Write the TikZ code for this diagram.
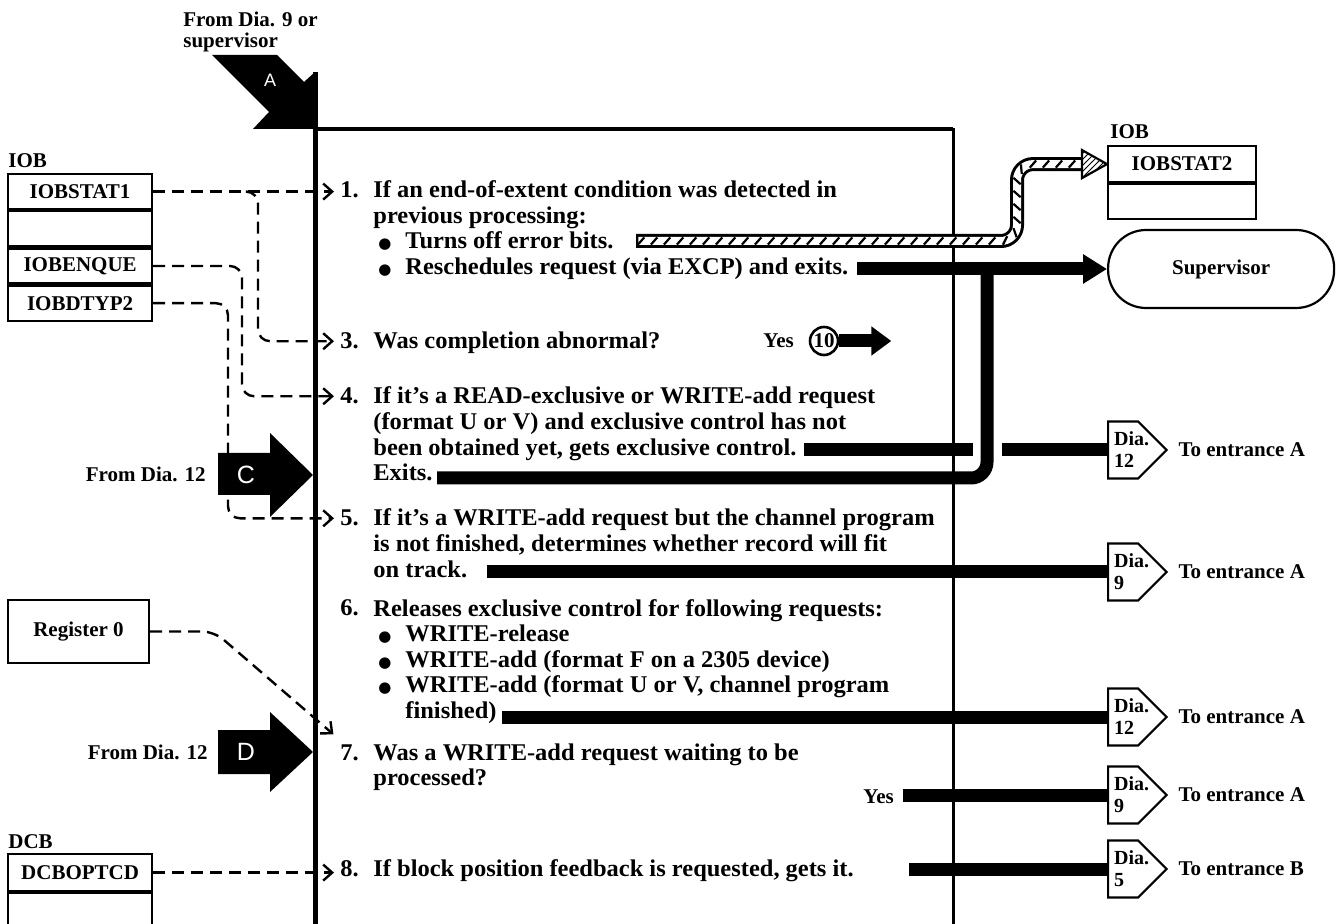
\documentclass[tikz,border=0pt]{standalone}
\usepackage{fontspec}
\setmainfont{Liberation Serif}
\newfontfamily\stepfont{Liberation Serif}[FakeStretch=1.02]
\newfontfamily\letterfont{Liberation Sans}
\newfontfamily\dotfont{DejaVu Sans}
\usetikzlibrary{arrows.meta,positioning,shapes.symbols,decorations.markings,patterns}
\newcommand\blt{\hspace*{2.5pt}\makebox[13.5pt][l]{\dotfont\fontsize{7.5}{7.5}\selectfont ●}}
\newcommand\dia[1]{\makebox[15pt][l]{\hspace*{3pt}Dia.}\\\hspace*{3pt}#1}
\begin{document}
\begin{tikzpicture}[x=0.5pt, y=-0.5pt, font=\stepfont\bfseries\fontsize{12}{12.75}\selectfont,
  lbl/.style={font=\bfseries\fontsize{10.5}{12}\selectfont, inner sep=0pt},
  field/.style={draw, line width=1.1pt, minimum width=72pt, minimum height=17.5pt, lbl},
  stepnum/.style={anchor=base west, inner sep=0pt},
  steptext/.style={anchor=base west, align=left, inner sep=0pt},
  dashlink/.style={line width=1.2pt, dash pattern=on 6pt off 3.5pt, rounded corners=6pt, shorten >=3pt,
    -{Straight Barb[length=4.5pt,width=8pt,line width=1.2pt]}},
  flowbar/.style={line width=6.5pt},
  hatchbar/.style={line width=7pt, rounded corners=8pt,
    postaction={draw=white, line width=4pt, shorten <=1.2pt},
    postaction={decorate, decoration={markings, mark=between positions 0.01 and 1 step 6.5pt with
      {\draw[black, line width=1.1pt] (-1.6pt,-1.8pt) -- (1.6pt,1.8pt);}}}},
  offpage/.style={draw, line width=1.1pt, shape=signal, signal to=east, signal pointer angle=90,
    minimum height=28.5pt, inner xsep=0pt, inner ysep=1pt, align=left, anchor=west,
    font=\bfseries\fontsize{10}{11}\selectfont},
  bigletter/.style={text=white, inner sep=0pt, font=\letterfont\fontsize{12.5}{12.5}\selectfont}]
  \useasboundingbox (0,0) rectangle (1338,924);
  \draw[line width=2.5pt] (315,72) -- (315,930);
  \draw[line width=2pt] (314,129) -- (953,129);
  \draw[line width=1.5pt] (953,128) -- (953,930);
  \fill (212,55) -- (277,55) -- (304,82) -- (315,72) -- (315,129) -- (253,129) -- (269,112) -- cycle;
  \node[bigletter, font=\letterfont\fontsize{9}{9}\selectfont] (labA) at (270,80) {A};
  \node[lbl, anchor=north west, align=left, font=\bfseries\fontsize{10.5}{10.5}\selectfont] (fromA) at (183,12) {From Dia. 9 or\\supervisor};
  \fill (218,453) -- (270,453) -- (270,433) -- (313,475) -- (270,517) -- (270,495) -- (218,495) -- cycle;
  \node[bigletter] (labC) at (246,475) {C};
  \node[lbl, anchor=east] (fromC) at (206,474) {From Dia. 12};
  \fill (218,730) -- (270,730) -- (270,712) -- (313,752) -- (270,792) -- (270,774) -- (218,774) -- cycle;
  \node[bigletter] (labD) at (246,752) {D};
  \node[lbl, anchor=east] (fromD) at (208,752) {From Dia. 12};

  \node[lbl, anchor=south west] (iobL) at (8,168) {IOB};
  \node[field, anchor=north west] (stat1) at (7,173) {IOBSTAT1};
  \node[field, below=0pt of stat1] (spare1) {};
  \node[field, below=0pt of spare1] (enque) {IOBENQUE};
  \node[field, below=0pt of enque] (dtyp2) {IOBDTYP2};
  \node[field, minimum width=70.5pt, minimum height=31.5pt] (reg0) at (78.5,631.5) {Register 0};
  \node[lbl, anchor=south west] (dcbL) at (8,849) {DCB};
  \node[field, anchor=north west, minimum height=18.5pt] (optcd) at (7,853) {DCBOPTCD};
  \node[field, below=0pt of optcd, minimum height=30pt] (spare2) {};
  \node[lbl, anchor=south west] (iobR) at (1110,139) {IOB};
  \node[field, anchor=north west, minimum width=74pt, minimum height=18pt] (stat2) at (1107,145) {IOBSTAT2};
  \node[field, below=0pt of stat2, minimum width=74pt] (spare3) {};
  \node[draw, line width=1.1pt, rounded corners=19pt, minimum width=113pt, minimum height=39pt, lbl, anchor=west] (sup) at (1107,269) {Supervisor};

  \node[stepnum] (n1) at (340,198) {1.};
  \node[steptext] (t1) at (373,274.5) {If an end-of-extent condition was detected in\\previous processing:\\\blt Turns off error bits.\\\blt Reschedules request (via EXCP) and exits.};
  \node[stepnum] (n3) at (340,349) {3.};
  \node[steptext] (t3) at (373,349) {Was completion abnormal?};
  \node[lbl, anchor=base west] (yes3) at (763,348) {Yes};
  \node[draw, circle, line width=1.3pt, minimum size=14pt, inner sep=0pt, lbl] (ten) at (824,341) {10};
  \node[stepnum] (n4) at (340,404) {4.};
  \node[steptext] (t4) at (373,480.5) {If it’s a READ-exclusive or WRITE-add request\\(format U or V) and exclusive control has not\\been obtained yet, gets exclusive control.\\Exits.};
  \node[stepnum] (n5) at (340,526) {5.};
  \node[steptext] (t5) at (373,577) {If it’s a WRITE-add request but the channel program\\is not finished, determines whether record will fit\\on track.};
  \node[stepnum] (n6) at (340,616) {6.};
  \node[steptext] (t6) at (373,718) {Releases exclusive control for following requests:\\\blt WRITE-release\\\blt WRITE-add (format F on a 2305 device)\\\blt WRITE-add (format U or V, channel program\\\hspace*{16pt}finished)};
  \node[stepnum] (n7) at (340,760) {7.};
  \node[steptext] (t7) at (373,785.5) {Was a WRITE-add request waiting to be\\processed?};
  \node[lbl, anchor=base west] (yes7) at (863,803) {Yes};
  \node[stepnum] (n8) at (340,876) {8.};
  \node[steptext] (t8) at (373,876) {If block position feedback is requested, gets it.};

  \node[offpage] (dia12a) at (1107,450) {\dia{12}};
  \node[offpage] (dia9a) at (1107,572) {\dia{9}};
  \node[offpage] (dia12b) at (1107,717) {\dia{12}};
  \node[offpage] (dia9b) at (1107,795) {\dia{9}};
  \node[offpage] (dia5) at (1107,869) {\dia{5}};
  \node[lbl, right=5pt of dia12a] (entA1) {To entrance A};
  \node[lbl, right=5pt of dia9a] (entA2) {To entrance A};
  \node[lbl, right=5pt of dia12b] (entA3) {To entrance A};
  \node[lbl, right=5pt of dia9b] (entA4) {To entrance A};
  \node[lbl, right=5pt of dia5] (entB) {To entrance B};

  \coordinate (offbits) at (636,241);
  \coordinate (resched) at (857,269);
  \coordinate (joinS) at (987,269);
  \coordinate (exits4) at (437,478);
  \coordinate (getx4) at (804,450);
  \coordinate (gapL) at (973,450);
  \coordinate (gapR) at (1002,450);
  \coordinate (track5) at (487,572);
  \coordinate (fin6) at (502,717);
  \coordinate (feed8) at (909,869);
  \coordinate (busA) at (258,0);
  \coordinate (busB) at (242,0);
  \coordinate (busC) at (228,0);

  \draw[hatchbar] (offbits) -| ([xshift=-45pt]stat2.west) -- ([xshift=-12pt]stat2.west);
  \filldraw[fill=white, line width=1.1pt] ([xshift=-12.5pt,yshift=7pt]stat2.west) -- (stat2.west) -- ([xshift=-12.5pt,yshift=-7pt]stat2.west) -- cycle;
  \fill[pattern=north east lines] ([xshift=-12.5pt,yshift=7pt]stat2.west) -- (stat2.west) -- ([xshift=-12.5pt,yshift=-7pt]stat2.west) -- cycle;
  \draw[flowbar, -{Triangle[length=12pt,width=14pt]}] (resched) -- (sup.west);
  \draw[flowbar, rounded corners=8pt] (exits4) -| (joinS);
  \draw[flowbar] (getx4) -- (gapL);
  \draw[flowbar] (gapR) -- (dia12a.west);
  \draw[flowbar] (track5) -- (dia9a.west);
  \draw[flowbar] (fin6) -- (dia12b.west);
  \draw[flowbar, shorten <=4.5pt] (yes7.east |- dia9b.west) -- (dia9b.west);
  \draw[flowbar] (feed8) -- (dia5.west);
  \draw[flowbar, -{Triangle[length=10pt,width=14pt]}] (ten.east) -- ++(52,0);

  \draw[dashlink] (stat1.east) -- (stat1.east -| n1.west);
  \draw[dashlink] (stat1.east) ++(94,0) -| (busA |- n3.west) -- (n3.west);
  \draw[dashlink] (enque.east) -| (busB |- n4.west) -- (n4.west);
  \draw[dashlink] (dtyp2.east) -| (busC |- n5.west) -- (n5.west);
  \draw[dashlink] (reg0.east) -- ++(64,0) -- ([xshift=-1pt,yshift=7pt]n7.west);
  \draw[dashlink] (optcd.east) -- (optcd.east -| n8.west);
\end{tikzpicture}
\end{document}
